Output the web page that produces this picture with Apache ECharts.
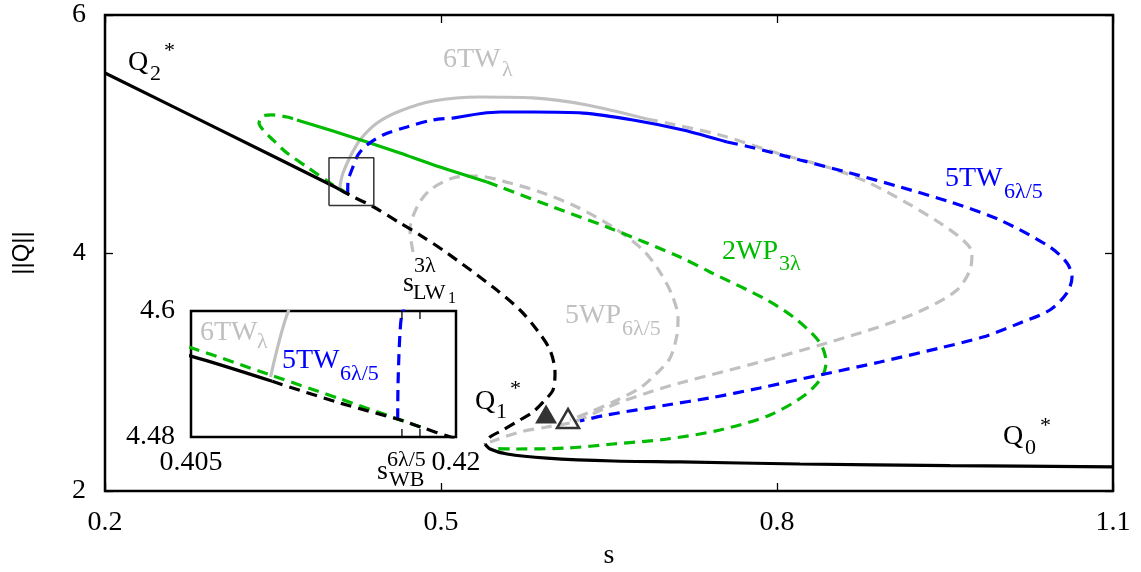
<!DOCTYPE html>
<html>
<head>
<meta charset="utf-8">
<script src="https://cdn.jsdelivr.net/npm/echarts@6/dist/echarts.min.js"></script>
<style>
  html, body { margin: 0; padding: 0; background: #fff; }
  #chart { width: 1141px; height: 572px; }
</style>
</head>
<body>
<div id="chart"></div>
<script>
// ---- axes ----
const sRange = [0.2, 1.1];
const sStep = 0.3;
const qRange = [2, 6];
const qStep = 2;
// enlarged window shown in the inset
const insetS = [0.405, 0.42];
const insetQ = [4.48, 4.6];
// window marked in the main plot
const zoomBoxS = [0.4, 0.44];
const zoomBoxQ = [4.4, 4.8];
// special parameter values marked on the inset axis
const sWB = 0.41694;   // s_WB^{6λ/5}
const sLW = 0.41796;   // s_LW1^{3λ}

// ---- uniform states Q* : [s, ||Q||] ----
const q2Stable = [[0.2, 5.513], [0.3, 5.047], [0.405, 4.557], [0.4096, 4.533]];
const qUnstable = [[0.4096, 4.533], [0.4135, 4.512], [0.4169, 4.496], [0.418, 4.4895], [0.4197, 4.48],
  [0.4384, 4.395], [0.4634, 4.252], [0.4813, 4.151], [0.5054, 4.0], [0.5464, 3.714], [0.5705, 3.521],
  [0.5857, 3.353], [0.5973, 3.185], [0.6018, 2.992], [0.6, 2.849], [0.5929, 2.765], [0.5821, 2.664],
  [0.5705, 2.597], [0.5554, 2.513], [0.5438, 2.454], [0.5393, 2.395]];
const q0Stable = [[0.5393, 2.395], [0.5438, 2.353], [0.5589, 2.311], [0.5946, 2.277], [0.6536, 2.252],
  [0.7134, 2.244], [0.8205, 2.227], [0.9545, 2.214], [1.1, 2.202]];

// ---- 2WP_{3λ} ----
const wp2Unstable1 = [[0.418, 4.4895], [0.4135, 4.516], [0.4095, 4.539], [0.405, 4.565], [0.4036, 4.571],
  [0.3804, 4.723], [0.3625, 4.84], [0.35, 4.95], [0.3411, 5.034], [0.3375, 5.092], [0.3411, 5.151],
  [0.3491, 5.16], [0.3625, 5.143], [0.3714, 5.118]];
const wp2Stable = [[0.3714, 5.118], [0.4036, 5.025], [0.4339, 4.933], [0.4634, 4.84], [0.4929, 4.742], [0.5411, 4.597]];
const wp2Unstable2 = [[0.5411, 4.597], [0.5527, 4.555], [0.6, 4.387], [0.6482, 4.218], [0.7134, 3.966],
  [0.7402, 3.84], [0.7911, 3.605], [0.8179, 3.437], [0.8384, 3.244], [0.8438, 3.084], [0.8402, 2.958],
  [0.825, 2.807], [0.7938, 2.639], [0.749, 2.513], [0.7018, 2.437], [0.6536, 2.395], [0.6125, 2.361],
  [0.5643, 2.353], [0.5446, 2.357]];

// ---- 6TW_λ ----
const tw6Stable = [[0.4095, 4.537], [0.41049, 4.599], [0.4125, 4.672], [0.4188, 4.807], [0.4277, 4.95],
  [0.4429, 5.092], [0.4634, 5.193], [0.4929, 5.277], [0.5348, 5.311], [0.5821, 5.303], [0.6304, 5.244], [0.6839, 5.126]];
const tw6Unstable = [[0.6839, 5.126], [0.7018, 5.092], [0.749, 4.992], [0.8, 4.84], [0.8446, 4.723],
  [0.8804, 4.597], [0.9161, 4.42], [0.9455, 4.252], [0.9661, 4.109], [0.9741, 4.0], [0.9723, 3.857],
  [0.9607, 3.689], [0.9339, 3.538], [0.9036, 3.42], [0.8741, 3.328], [0.8446, 3.244], [0.7848, 3.084],
  [0.7134, 2.908], [0.6839, 2.824], [0.6536, 2.723], [0.6179, 2.58], [0.5946, 2.538], [0.5705, 2.496], [0.5438, 2.412]];

// ---- 5WP_{6λ/5} ----
const wp5Unstable = [[0.475, 4.008], [0.4723, 4.193], [0.4786, 4.387], [0.4902, 4.529], [0.5107, 4.63],
  [0.5321, 4.647], [0.5616, 4.588], [0.5911, 4.504], [0.6214, 4.387], [0.6536, 4.218], [0.6804, 4.025],
  [0.6955, 3.84], [0.7063, 3.647], [0.7116, 3.454], [0.7107, 3.311], [0.7045, 3.118], [0.6929, 2.992],
  [0.6777, 2.866], [0.6536, 2.748], [0.633, 2.664], [0.6152, 2.597]];

// ---- 5TW_{6λ/5} ----
const tw5Unstable1 = [[0.4167, 4.497], [0.41672, 4.531], [0.41683, 4.579], [0.41698, 4.599], [0.418, 4.64],
  [0.4214, 4.723], [0.4259, 4.824], [0.4339, 4.908], [0.4482, 4.992], [0.4696, 5.059], [0.4929, 5.118], [0.5107, 5.134]];
const tw5Stable = [[0.5107, 5.134], [0.5527, 5.185], [0.5821, 5.185], [0.6268, 5.176], [0.6714, 5.118],
  [0.7161, 5.034], [0.7554, 4.933]];
const tw5Unstable2 = [[0.7554, 4.933], [0.7759, 4.891], [0.8205, 4.782], [0.8652, 4.672], [0.9098, 4.555],
  [0.9545, 4.429], [0.9991, 4.277], [1.0437, 4.05], [1.0589, 3.916], [1.0634, 3.798], [1.0589, 3.664],
  [1.0437, 3.521], [1.017, 3.412], [0.9839, 3.294], [0.9455, 3.202], [0.892, 3.084], [0.8384, 2.975],
  [0.7848, 2.866], [0.7402, 2.782], [0.7018, 2.723], [0.6482, 2.639], [0.6241, 2.588]];

// ---- special points ----
const filledTriangle = [[0.5938, 2.647]];
const openTriangle = [[0.6134, 2.609]];

// ---- styling ----
const SERIF = '"Liberation Serif", "Times New Roman", serif';
const SANS = '"Liberation Sans", Arial, sans-serif';
const BLACK = '#000000', GREY = '#c0c0c0', BLUE = '#0000ff', GREEN = '#00bb00';
const DASH = [11, 7];
const TICK_LEN = 8;

const curves = [
  [tw6Stable, GREY, false], [tw6Unstable, GREY, true], [wp5Unstable, GREY, true],
  [wp2Unstable1, GREEN, true], [wp2Stable, GREEN, false], [wp2Unstable2, GREEN, true],
  [tw5Unstable1, BLUE, true], [tw5Stable, BLUE, false], [tw5Unstable2, BLUE, true],
  [q2Stable, BLACK, false], [qUnstable, BLACK, true], [q0Stable, BLACK, false]
];

function lineSeries(data, color, dashed, inset, z) {
  return {
    type: 'line', data, xAxisIndex: inset ? 2 : 0, yAxisIndex: inset ? 2 : 0,
    symbol: 'none', smooth: 0.3, clip: true, silent: true, animation: false, z,
    lineStyle: { color, width: 3.2, type: dashed ? DASH : 'solid', cap: 'butt' }
  };
}

const series = [];
curves.forEach((c, i) => {
  series.push(lineSeries(c[0], c[1], c[2], false, 10 + i));
  series.push(lineSeries(c[0], c[1], c[2], true, 10 + i));
});
// marked window
series.push({
  type: 'line', xAxisIndex: 0, yAxisIndex: 0, symbol: 'none', silent: true, z: 30,
  data: [[zoomBoxS[0], zoomBoxQ[0]], [zoomBoxS[1], zoomBoxQ[0]], [zoomBoxS[1], zoomBoxQ[1]],
         [zoomBoxS[0], zoomBoxQ[1]], [zoomBoxS[0], zoomBoxQ[0]]],
  lineStyle: { color: '#333333', width: 1.5 }
});
series.push({
  type: 'scatter', xAxisIndex: 0, yAxisIndex: 0, data: openTriangle, symbol: 'triangle',
  symbolSize: [22, 19], silent: true, z: 40,
  itemStyle: { color: 'rgba(255,255,255,0)', borderColor: BLACK, borderWidth: 2.5 }
});
series.push({
  type: 'scatter', xAxisIndex: 0, yAxisIndex: 0, data: filledTriangle, symbol: 'triangle',
  symbolSize: [22, 19], silent: true, z: 41,
  itemStyle: { color: BLACK }
});

const tickStyle = { show: true, inside: true, length: TICK_LEN, lineStyle: { color: BLACK, width: 1.3 } };
const noLine = { show: false, onZero: false };

// text pieces: [text, left x, middle y, size, color]
function pieces(list) {
  return list.map(p => ({
    type: 'text', x: p[1], y: p[2], z: 100, silent: true,
    style: { text: p[0], font: p[3] + 'px ' + SERIF, fill: p[4] || BLACK, align: 'left', verticalAlign: 'middle' }
  }));
}

const textElements = pieces([
  ['Q', 128, 63, 28], ['2', 150, 74, 22], ['*', 164, 51, 22],
  ['6TW', 443, 60, 28, GREY], ['λ', 502, 70, 22, GREY],
  ['5TW', 945, 179, 28, BLUE], ['6λ/5', 1004, 192, 22, BLUE],
  ['2WP', 722, 252, 28, GREEN], ['3λ', 779, 264, 22, GREEN],
  ['5WP', 565, 316, 28, GREY], ['6λ/5', 622, 329, 22, GREY],
  ['s', 403, 284, 28], ['3λ', 414, 266, 22], ['LW', 413, 293, 22], ['1', 448, 299, 16],
  ['Q', 475, 402, 28], ['1', 496, 412, 22], ['*', 510, 389, 22],
  ['Q', 1003, 437, 28], ['0', 1025, 448, 22], ['*', 1040, 426, 22],
  ['6TW', 200, 333, 28, GREY], ['λ', 257, 342, 22, GREY],
  ['5TW', 282, 361, 28, BLUE], ['6λ/5', 340, 374, 22, BLUE],
  ['s', 377, 472, 28], ['6λ/5', 387, 460, 22], ['WB', 389, 480, 22]
]);

const option = {
  animation: false,
  backgroundColor: '#ffffff',
  grid: [
    { left: 105, right: 28, top: 15, bottom: 81, show: true, borderColor: BLACK, borderWidth: 2.5,
      backgroundColor: 'transparent', outerBoundsMode: 'none', containLabel: false },
    { left: 191, top: 311, width: 265, height: 126, show: true, borderColor: BLACK, borderWidth: 2.5,
      backgroundColor: 'transparent', outerBoundsMode: 'none', containLabel: false }
  ],
  xAxis: [
    { type: 'value', gridIndex: 0, position: 'bottom', min: sRange[0], max: sRange[1], interval: sStep,
      axisLine: noLine, axisTick: tickStyle, splitLine: { show: false },
      axisLabel: { margin: 32, verticalAlign: 'middle', fontFamily: SERIF, fontSize: 28, color: BLACK },
      name: 's', nameLocation: 'middle', nameGap: 60,
      nameTextStyle: { fontFamily: SERIF, fontSize: 28, color: BLACK, verticalAlign: 'middle' } },
    { type: 'value', gridIndex: 0, position: 'top', min: sRange[0], max: sRange[1], interval: sStep,
      axisLine: noLine, axisTick: tickStyle, splitLine: { show: false }, axisLabel: { show: false } },
    { type: 'value', gridIndex: 1, position: 'bottom', min: insetS[0], max: insetS[1],
      axisLine: noLine, splitLine: { show: false }, axisTick: { show: false },
      axisLabel: { customValues: insetS, margin: 26, verticalAlign: 'middle', fontFamily: SERIF, fontSize: 28, color: BLACK } }
  ],
  yAxis: [
    { type: 'value', gridIndex: 0, position: 'left', min: qRange[0], max: qRange[1], interval: qStep,
      axisLine: noLine, axisTick: tickStyle, splitLine: { show: false },
      axisLabel: {
        margin: 19, align: 'right',
        formatter: v => (v === 4 ? '{sans|4}' : '{serif|' + v + '}'),
        rich: { serif: { fontFamily: SERIF, fontSize: 28, color: BLACK }, sans: { fontFamily: SANS, fontSize: 24, color: BLACK } }
      },
      name: '||Q||', nameLocation: 'middle', nameGap: 83, nameRotate: 90,
      nameTextStyle: { fontFamily: SANS, fontSize: 24, color: BLACK, verticalAlign: 'middle' } },
    { type: 'value', gridIndex: 0, position: 'right', min: qRange[0], max: qRange[1], interval: qStep,
      axisLine: noLine, axisTick: tickStyle, splitLine: { show: false }, axisLabel: { show: false } },
    { type: 'value', gridIndex: 1, position: 'left', min: insetQ[0], max: insetQ[1],
      axisLine: noLine, axisTick: { show: false }, splitLine: { show: false },
      axisLabel: { customValues: insetQ, margin: 16, align: 'right', verticalAlign: 'middle', fontFamily: SERIF, fontSize: 28, color: BLACK } }
  ],
  series
};

const chart = echarts.init(document.getElementById('chart'), null, { renderer: 'canvas' });
chart.setOption(option);

// inset ticks at s_WB and s_LW1, placed through the inset's own scales
const tickElements = [];
[sWB, sLW].forEach(v => {
  const bottom = chart.convertToPixel({ xAxisIndex: 2, yAxisIndex: 2 }, [v, insetQ[0]]);
  const top = chart.convertToPixel({ xAxisIndex: 2, yAxisIndex: 2 }, [v, insetQ[1]]);
  tickElements.push(
    { type: 'line', z: 90, silent: true, shape: { x1: bottom[0], y1: bottom[1], x2: bottom[0], y2: bottom[1] - TICK_LEN },
      style: { stroke: BLACK, lineWidth: 1.3 } },
    { type: 'line', z: 90, silent: true, shape: { x1: top[0], y1: top[1], x2: top[0], y2: top[1] + TICK_LEN },
      style: { stroke: BLACK, lineWidth: 1.3 } }
  );
});
chart.setOption({ graphic: textElements.concat(tickElements) });
</script>
</body>
</html>
